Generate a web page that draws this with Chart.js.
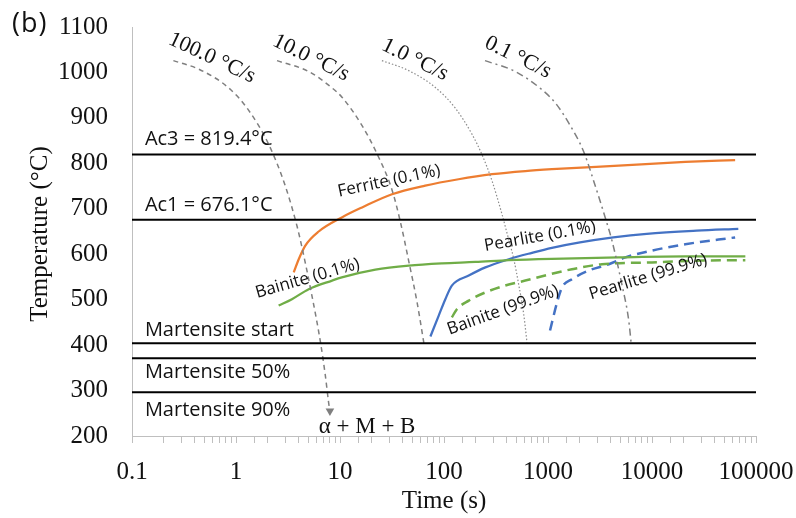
<!DOCTYPE html>
<html>
<head>
<meta charset="utf-8">
<title>CCT diagram</title>
<script src="https://cdn.jsdelivr.net/npm/chart.js@4.4.1/dist/chart.umd.min.js"></script>
<style>
  body { margin: 0; background: #fff; }
  canvas { display: block; }
</style>
</head>
<body>
<canvas id="cct" width="796" height="518"></canvas>
<script>
// Cooling curves (time in s, temperature in °C)
const cool100Time = [0.25, 0.44, 0.85, 1.32, 2.06, 2.98, 3.86, 4.31, 5.38, 6.47, 7.22, 7.78, 8.0];
const cool100Temp = [1026, 1007, 966, 917, 842, 750, 662, 615, 508, 408, 334, 273, 255];
const cool10Time = [2.48, 5.0, 8.38, 10.5, 16.3, 22.7, 31.6, 38.0, 45.8, 55.0, 64.0];
const cool10Temp = [1026, 1002, 966, 945, 883, 821, 742, 672, 585, 495, 405];
const cool1Time = [25.3, 45.8, 82.5, 128, 186, 232, 290, 361, 403, 468, 523, 584, 628];
const cool1Temp = [1026, 1004, 967, 922, 864, 819, 761, 688, 647, 590, 533, 468, 406];
const cool01Time = [248, 485, 875, 1175, 1580, 2200, 2850, 3690, 4120, 5150, 5970, 6300];
const cool01Temp = [1026, 1002, 962, 933, 889, 826, 750, 668, 630, 532, 455, 405];

// Transformation start / finish curves
const ferriteTime = [3.59, 4.01, 4.64, 6.24, 10.4, 16.3, 31.6, 66, 138, 290, 605, 1090, 4790, 20900, 63000];
const ferriteTemp = [560, 589, 619, 650, 681, 703, 732, 751, 765, 776, 783, 787, 795, 803, 807];
const bainiteStartTime = [2.57, 3.45, 5.0, 8.4, 10.4, 21.9, 45.8, 96, 200, 420, 1090, 4790, 20900, 79000];
const bainiteStartTemp = [487, 501, 523, 542, 549, 566, 575, 580, 583, 587, 590, 593, 595, 595];
const pearliteStartTime = [74, 89, 103, 119, 173, 250, 420, 700, 1090, 2030, 4250, 8900, 26900, 67600];
const pearliteStartTemp = [419, 465, 501, 531, 553, 571, 589, 603, 614, 626, 637, 645, 652, 656];
const bainiteEndTime = [119, 133, 173, 250, 388, 605, 1090, 1700, 3300, 10000, 30300, 79000];
const bainiteEndTemp = [461, 479, 498, 516, 531, 542, 557, 567, 578, 582, 586, 587];
const pearliteEndTime = [1046, 1222, 1365, 1700, 2460, 3840, 5540, 10000, 20900, 63000];
const pearliteEndTemp = [432, 494, 527, 545, 564, 578, 593, 608, 622, 637];

// Critical temperatures
const criticalTemps = [819.4, 676.1, 404, 371, 296];
const criticalNames = ['Ac3 = 819.4°C', 'Ac1 = 676.1°C', 'Martensite start', 'Martensite 50%', 'Martensite 90%'];
const criticalLabelTemps = [853.6, 708.4, 433, 341, 257];

// Axes
const timeRange = [0.1, 100000];
const tempRange = [200, 1100];

// Text placed in data units: [text, time, temp, angle]
const rateLabels = [
    ['100.0 °C/s', 0.588, 1032, 25],
    ['10.0 °C/s', 5.26, 1032, 26],
    ['1.0 °C/s', 52.6, 1028, 26],
    ['0.1 °C/s', 515, 1033, 26]
];
const phaseLabels = [
    ['Ferrite (0.1%)', 29.6, 761, -12],
    ['Bainite (0.1%)', 4.87, 546.6, -16],
    ['Pearlite (0.1%)', 837, 639, -10],
    ['Bainite (99.9%)', 369, 477, -20],
    ['Pearlite (99.9%)', 9160, 550, -17]
];
const productLabel = ['α + M + B', 18.2, 220];

const ORANGE = '#ed7d31';
const BLUE = '#4472c4';
const GREEN = '#70ad47';
const GRAY = '#7f7f7f';
const AXIS_GRAY = '#bfbfbf';
const SERIF = '"Liberation Serif", "Times New Roman", serif';
const SANS = '"Open Sans", "Noto Sans", sans-serif';

function toPoints(times, temps) {
    return times.map((t, i) => ({ x: t, y: temps[i] }));
}

function curve(times, temps, color, width, dash) {
    return {
        data: toPoints(times, temps),
        borderColor: color,
        borderWidth: width,
        borderDash: dash || [],
        pointRadius: 0,
        fill: false,
        cubicInterpolationMode: 'monotone'
    };
}

const datasets = [];

// Horizontal critical temperature lines
criticalTemps.forEach(T => {
    datasets.push({
        data: [{ x: timeRange[0], y: T }, { x: timeRange[1], y: T }],
        borderColor: '#000',
        borderWidth: 2,
        pointRadius: 0,
        fill: false
    });
});

// Cooling curves; the fastest one ends in an arrow head
const fastest = curve(cool100Time, cool100Temp, GRAY, 1.5, [5, 4]);
fastest.pointRadius = ctx => (ctx.dataIndex === cool100Time.length - 1 ? 5 : 0);
fastest.pointStyle = 'triangle';
fastest.rotation = 180;
fastest.pointBackgroundColor = GRAY;
fastest.pointBorderColor = GRAY;
fastest.pointBorderWidth = 0;
datasets.push(fastest);
datasets.push(curve(cool10Time, cool10Temp, GRAY, 1.5, [5, 4]));
datasets.push(curve(cool1Time, cool1Temp, '#8c8c8c', 1.2, [1.5, 2]));
datasets.push(curve(cool01Time, cool01Temp, GRAY, 1.5, [7, 4, 2, 4]));

// Transformation curves
datasets.push(curve(ferriteTime, ferriteTemp, ORANGE, 2.25));
datasets.push(curve(bainiteStartTime, bainiteStartTemp, GREEN, 2.25));
datasets.push(curve(pearliteStartTime, pearliteStartTemp, BLUE, 2.25));
datasets.push(curve(bainiteEndTime, bainiteEndTemp, GREEN, 2.5, [10, 6]));
datasets.push(curve(pearliteEndTime, pearliteEndTemp, BLUE, 2.5, [10, 6]));

// Draws all annotation text, axis titles and the panel letter
const textPlugin = {
    id: 'cctText',
    afterDatasetsDraw(chart) {
        const { ctx, chartArea, scales: { x, y } } = chart;
        ctx.save();
        ctx.fillStyle = '#111';

        function rotated(text, t, T, angle, font, align) {
            ctx.save();
            ctx.translate(x.getPixelForValue(t), y.getPixelForValue(T));
            ctx.rotate(angle * Math.PI / 180);
            ctx.font = font;
            ctx.textAlign = align || 'center';
            ctx.textBaseline = 'middle';
            ctx.fillText(text, 0, 0);
            ctx.restore();
        }

        criticalNames.forEach((name, i) => {
            rotated(name, 0.133, criticalLabelTemps[i], 0, '20px ' + SANS, 'left');
        });
        rateLabels.forEach(([text, t, T, a]) => rotated(text, t, T, a, '22px ' + SERIF));
        phaseLabels.forEach(([text, t, T, a]) => rotated(text, t, T, a, '17px ' + SANS));
        rotated(productLabel[0], productLabel[1], productLabel[2], 0, '23px ' + SERIF);

        // Axis titles
        ctx.font = '25px ' + SERIF;
        ctx.textAlign = 'center';
        ctx.textBaseline = 'alphabetic';
        ctx.fillText('Time (s)', (chartArea.left + chartArea.right) / 2, 508);
        ctx.save();
        ctx.translate(47, 234);
        ctx.rotate(-Math.PI / 2);
        ctx.fillText('Temperature (°C)', 0, 0);
        ctx.restore();

        // Panel letter
        ctx.font = '27px ' + SANS;
        ctx.letterSpacing = '1px';
        ctx.textAlign = 'left';
        ctx.textBaseline = 'middle';
        ctx.fillText('(b)', 12, 24);
        ctx.restore();
    }
};

new Chart(document.getElementById('cct'), {
    type: 'line',
    data: { datasets },
    options: {
        responsive: false,
        animation: false,
        devicePixelRatio: 1,
        layout: { padding: { top: 27, right: 40, left: 0, bottom: 0 } },
        plugins: {
            legend: { display: false },
            tooltip: { enabled: false }
        },
        scales: {
            x: {
                type: 'logarithmic',
                min: timeRange[0],
                max: timeRange[1],
                afterFit: scale => {
                    scale.height = 82;
                    scale.paddingLeft = 0;
                    scale.paddingRight = 0;
                },
                border: { display: true, color: AXIS_GRAY, width: 1 },
                grid: { drawOnChartArea: false, drawTicks: true, tickLength: 7, color: AXIS_GRAY },
                ticks: {
                    autoSkip: false,
                    maxRotation: 0,
                    padding: 14,
                    color: '#111',
                    font: { family: SERIF, size: 25 },
                    callback: v => {
                        const p = Math.log10(v);
                        return Math.abs(p - Math.round(p)) < 1e-6 ? String(v) : '';
                    }
                }
            },
            y: {
                min: tempRange[0],
                max: tempRange[1],
                afterFit: scale => {
                    scale.width = 132;
                    scale.paddingTop = 0;
                    scale.paddingBottom = 0;
                },
                border: { display: true, color: AXIS_GRAY, width: 1 },
                grid: { display: true, drawOnChartArea: false, drawTicks: false },
                ticks: {
                    stepSize: 100,
                    padding: 24,
                    color: '#111',
                    font: { family: SERIF, size: 25 },
                    callback: v => String(v)
                }
            }
        }
    },
    plugins: [textPlugin]
});
</script>
</body>
</html>
